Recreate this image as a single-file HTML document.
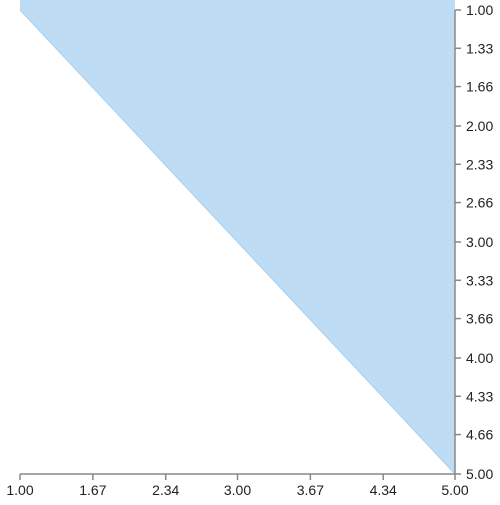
<!DOCTYPE html>
<html><head><meta charset="utf-8"><style>
html,body{margin:0;padding:0;background:#fff;}
svg text{font-family:"Liberation Sans",sans-serif;font-size:14px;fill:#222;}
</style></head><body>
<svg id="chart" width="500" height="500"></svg>
<script>
const xValues = [1, 5];
const yValues = [1, 5];
const xTicks = [1.00, 1.67, 2.34, 3.00, 3.67, 4.34, 5.00];
const yTicks = [1.00, 1.33, 1.66, 2.00, 2.33, 2.66, 3.00, 3.33, 3.66, 4.00, 4.33, 4.66, 5.00];
const ns = "http://www.w3.org/2000/svg";
const svg = document.getElementById('chart');
const L = 20, R = 455, T = 10, B = 474;
const xs = v => L + (v - 1) / 4 * (R - L);
const ys = v => T + (v - 1) / 4 * (B - T);
function mk(tag, attrs) { const e = document.createElementNS(ns, tag); for (const k in attrs) e.setAttribute(k, attrs[k]); svg.appendChild(e); return e; }
let pts = xValues.map((x, i) => xs(x) + ',' + ys(yValues[i]));
pts.push(xs(xValues[xValues.length - 1]) + ',0');
pts.push(xs(xValues[0]) + ',0');
const area = mk('polygon', { points: pts.join(' '), fill: '#bedcf4', stroke: 'none' });


const line = mk('polyline', { points: xValues.map((x, i) => xs(x) + ',' + ys(yValues[i])).join(' '), fill: 'none', stroke: '#a9cff0', 'stroke-width': 1 });


const xa = mk('line', { x1: L, x2: R, y1: B, y2: B, stroke: '#888', 'stroke-width': 1.5 });


const ya = mk('line', { x1: R, x2: R, y1: T, y2: B, stroke: '#888', 'stroke-width': 1.5 });


xTicks.forEach(v => {
  const t = mk('line', { x1: xs(v), x2: xs(v), y1: B, y2: B + 6, stroke: '#888', 'stroke-width': 1.5 });
  
  
  const tx = mk('text', { x: xs(v), y: B + 21, 'text-anchor': 'middle' });
  tx.textContent = v.toFixed(2);
  
  
});
yTicks.forEach(v => {
  const t = mk('line', { x1: R, x2: R + 6, y1: ys(v), y2: ys(v), stroke: '#888', 'stroke-width': 1.5 });
  
  
  const tx = mk('text', { x: R + 11, y: ys(v) + 5, 'text-anchor': 'start' });
  tx.textContent = v.toFixed(2);
  
  
});
</script>
</body></html>
